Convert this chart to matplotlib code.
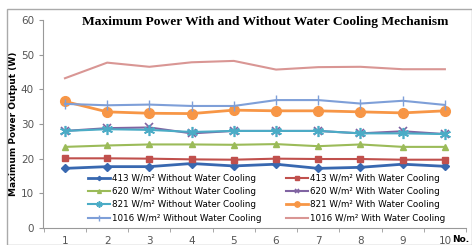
import matplotlib
matplotlib.use("Agg")
import matplotlib.pyplot as plt

x = [1, 2, 3, 4, 5, 6, 7, 8, 9, 10]
w413_without = [17.2, 17.7, 17.7, 18.6, 17.9, 18.4, 17.2, 17.5, 18.4, 17.8]
w413_with = [20.1, 20.1, 20.0, 19.8, 19.7, 20.0, 19.9, 19.9, 19.7, 19.7]
w620_without = [23.4, 23.8, 24.1, 24.1, 24.0, 24.2, 23.6, 24.1, 23.4, 23.4]
w620_with = [28.0, 28.8, 29.0, 27.3, 28.0, 28.0, 28.0, 27.3, 27.9, 27.1]
w821_without = [28.0, 28.5, 28.3, 27.7, 28.0, 28.0, 28.0, 27.3, 27.3, 27.1]
w821_with = [36.5, 33.5, 33.1, 33.0, 34.0, 33.8, 33.8, 33.5, 33.2, 33.8]
w1016_without = [35.8, 35.4, 35.6, 35.2, 35.2, 36.9, 36.9, 35.9, 36.7, 35.5]
w1016_with = [43.2, 47.7, 46.5, 47.8, 48.2, 45.7, 46.4, 46.5, 45.8, 45.8]

labels = [
    "413 W/m² Without Water Cooling", "413 W/m² With Water Cooling",
    "620 W/m² Without Water Cooling", "620 W/m² With Water Cooling",
    "821 W/m² Without Water Cooling", "821 W/m² With Water Cooling",
    "1016 W/m² Without Water Cooling", "1016 W/m² With Water Cooling",
]

fig = plt.figure(figsize=(4.72, 2.45), dpi=100)
ax = fig.add_axes([43/472, 17/245, 423/472, 208/245])

series = [
    (w413_without, dict(color="#3868B0", marker="D", ms=4, lw=2.0)),
    (w413_with, dict(color="#C0504D", marker="s", ms=5, lw=1.5)),
    (w620_without, dict(color="#9BBB59", marker="^", ms=5, lw=1.5)),
    (w620_with, dict(color="#8064A2", marker="x", ms=6, mew=1.2, lw=1.5)),
    (w821_without, dict(color="#4BACC6", marker=(6, 2, 0), ms=8, mew=1.2, lw=1.5)),
    (w821_with, dict(color="#F79646", marker="o", ms=7, lw=2.0)),
    (w1016_without, dict(color="#7E9FD8", marker="|", ms=7, mew=1.0, lw=1.5)),
    (w1016_with, dict(color="#D99694", marker=None, lw=1.5)),
]
handles = []
for (vals, st), lab in zip(series, labels):
    h, = ax.plot(x, vals, label=lab, **st)
    handles.append(h)

ax.set_xlim(0.48, 10.48)
ax.set_ylim(0, 60)
ax.set_xticks(x)
ax.set_yticks([0, 10, 20, 30, 40, 50, 60])
ax.set_xticks([i + 0.5 for i in range(0, 11)], minor=True)
ax.tick_params(axis="x", which="major", length=0, labelsize=7.5, colors="#555555", pad=6)
ax.tick_params(axis="x", which="minor", length=3, color="#999999")
ax.tick_params(axis="y", length=3, color="#999999", labelsize=7.5, labelcolor="#555555")
for s in ["top", "right"]:
    ax.spines[s].set_visible(False)
for s in ["left", "bottom"]:
    ax.spines[s].set_color("#999999")

ax.set_title("Maximum Power With and Without Water Cooling Mechanism",
             fontfamily="Liberation Serif", fontweight="bold", fontsize=9.7, x=0.525, y=0.935)
ax.set_ylabel("Maximum Power Output (W)", fontsize=6.5, fontweight="bold", labelpad=2)
fig.text(452/472, 1/245, "No.", fontsize=6.5, fontweight="bold", ha="left", va="bottom")

order = [0, 2, 4, 6, 1, 3, 5, 7]
ax.legend([handles[i] for i in order], [labels[i] for i in order],
          ncol=2, loc="lower left", bbox_to_anchor=(0.095, 0.0), fontsize=6.3,
          frameon=False, handlelength=2.5, handletextpad=0.15, columnspacing=2.9,
          labelspacing=0.5, borderaxespad=0.2, markerscale=0.55)

fig.patches.append(plt.Rectangle((7/472, 0), 465/472, 1 - 9/245, transform=fig.transFigure,
                                 fill=False, edgecolor="#AAAAAA", lw=1.0))

fig.savefig("out.png", dpi=100)
